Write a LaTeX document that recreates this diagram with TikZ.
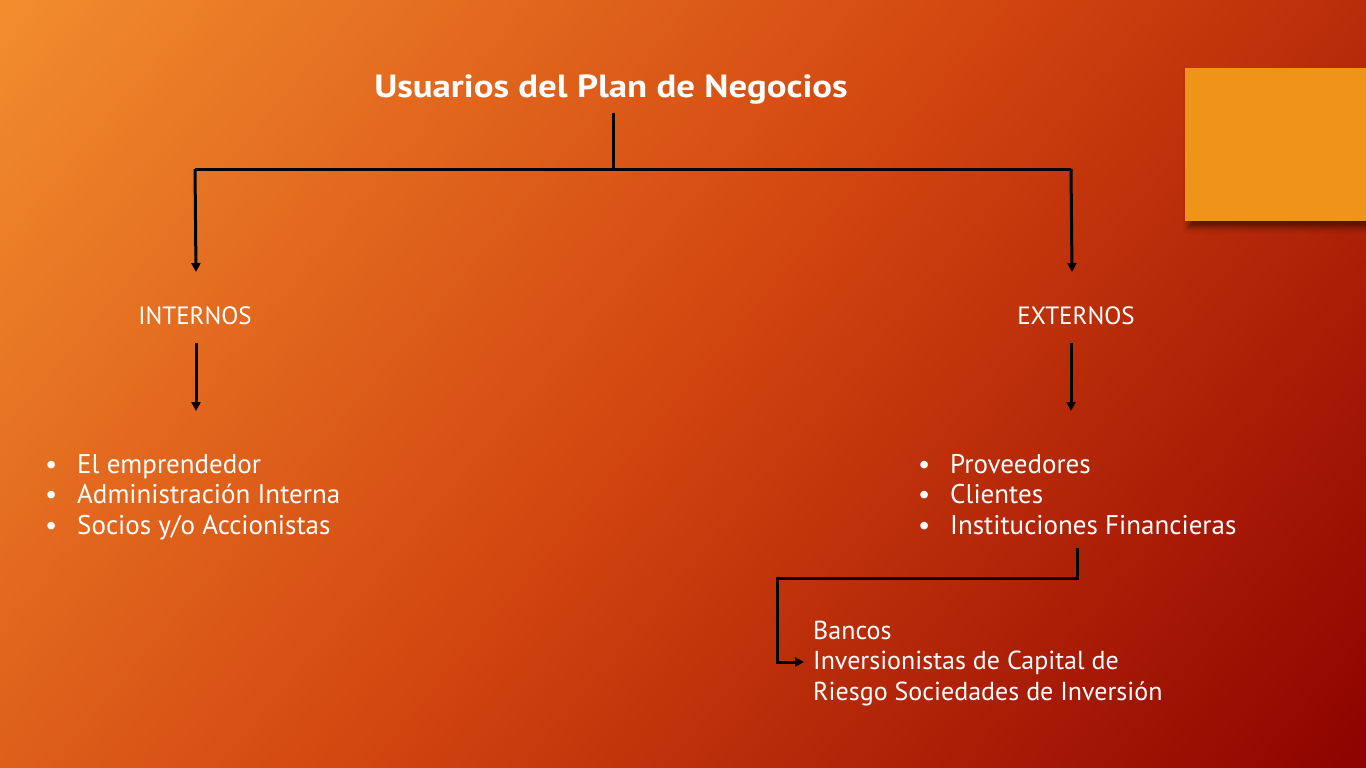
\documentclass[tikz,border=0pt]{standalone}
\usepackage{fontspec}
\setmainfont{PT Sans}
\newfontfamily\titlefont[FakeStretch=1.15]{PT Sans}
\usetikzlibrary{arrows.meta,shadows.blur}
\definecolor{bgA}{HTML}{F28D2E}
\definecolor{bgB}{HTML}{D2450F}
\definecolor{bgC}{HTML}{8E0200}
\definecolor{boxO}{HTML}{F09319}
\pgfdeclareverticalshading{bgsh}{100bp}{color(0bp)=(bgC); color(14.8bp)=(bgC); color(50bp)=(bgB); color(85.2bp)=(bgA); color(100bp)=(bgA)}
\begin{document}
\begin{tikzpicture}[x=1pt,y=-1pt,
  conn/.style={line width=3pt, black},
  arr/.style={conn, -{Triangle[length=9pt,width=9pt]}},
  txt/.style={text=white, inner sep=0pt, anchor=base west, font=\fontsize{27}{30}\selectfont},
  btxt/.style={txt, font=\fontsize{26}{30}\selectfont},
  head/.style={text=white, inner sep=0pt, anchor=base, font=\fontsize{25}{28}\selectfont}]
\useasboundingbox (0,0) rectangle (1366,768);
\shade[shading=bgsh, shading angle=50] (0,0) rectangle (1366,768);
\fill[boxO, blur shadow={shadow xshift=4pt, shadow yshift=-6pt, shadow blur radius=6pt, shadow opacity=55}] (1185,68) rectangle (1366,221);
% title
\node[text=white, inner sep=0pt, anchor=base, font=\titlefont\bfseries\fontsize{32}{36}\selectfont] (t) at (611,97) {Usuarios del Plan de Negocios};
% headings
\node[head] (int) at (195,324) {INTERNOS};
\node[head] (ext) at (1076,324) {EXTERNOS};
% left list
\node[txt] (l1) at (45,473) {\makebox[32pt][l]{\textbullet}El emprendedor};
\node[txt] (l2) at (45,503) {\makebox[32pt][l]{\textbullet}Administración Interna};
\node[txt] (l3) at (45,534) {\makebox[32pt][l]{\textbullet}Socios y/o Accionistas};
% right list
\node[txt] (r1) at (918,473) {\makebox[32pt][l]{\textbullet}Proveedores};
\node[txt] (r2) at (918,503) {\makebox[32pt][l]{\textbullet}Clientes};
\node[txt] (r3) at (918,534) {\makebox[32pt][l]{\textbullet}Instituciones Financieras};
% banks
\node[btxt] (b1) at (813,639) {Bancos};
\node[btxt] (b2) at (813,669) {Inversionistas de Capital de};
\node[btxt] (b3) at (813,700) {Riesgo Sociedades de Inversión};
% connectors
\coordinate (j) at (613,169);
\coordinate (jl) at (195,169);
\coordinate (jr) at (1071,169);
\coordinate (al) at (196,272);
\coordinate (ar) at (1072,272);
\draw[conn] (613,113) -- (j);
\draw[conn] (jl) -- (jr);
\draw[arr] (jl) -- (al);
\draw[arr] (jr) -- (ar);
\draw[arr] ([yshift=-18pt]int.south -| 196,0) -- (196,411);
\draw[arr] ([yshift=-18pt]ext.south -| 1071,0) -- (1071,411);
\coordinate (c1) at (1077,548);
\draw[arr] (c1) -- (1077,578) -- (777,578) -- (777,662) -- ([xshift=-9pt]b2.west |- 0,662);
\end{tikzpicture}
\end{document}
